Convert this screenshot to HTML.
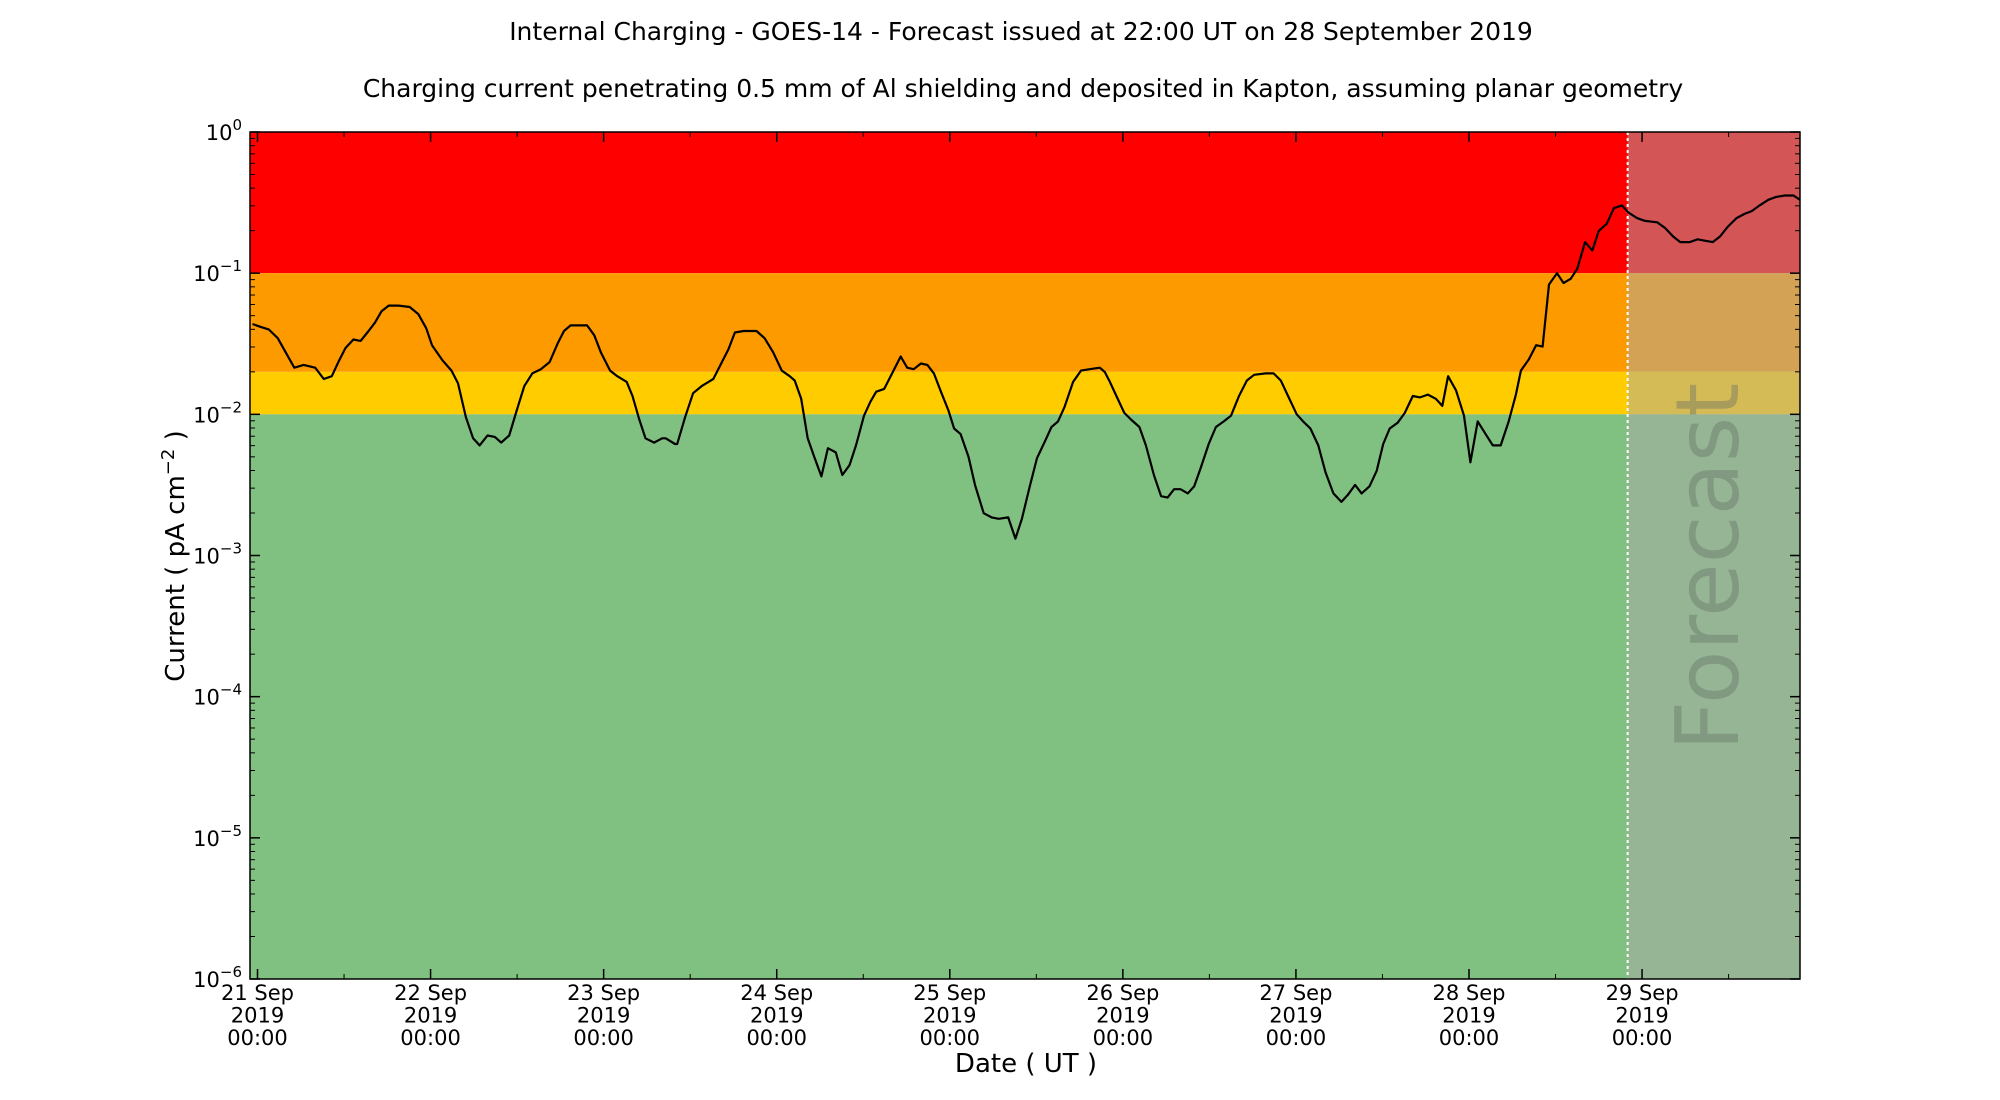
<!DOCTYPE html>
<html><head><meta charset="utf-8">
<style>
html,body{margin:0;padding:0;background:#fff;}
svg{display:block;font-family:"DejaVu Sans","Liberation Sans",sans-serif;}
</style></head>
<body>
<svg id="chart" width="2000" height="1100" viewBox="0 0 2000 1100">
<text x="1021" y="40" font-size="25" text-anchor="middle">Internal Charging - GOES-14 - Forecast issued at 22:00 UT on 28 September 2019</text>
<text x="1023" y="97" font-size="25" text-anchor="middle">Charging current penetrating 0.5 mm of Al shielding and deposited in Kapton, assuming planar geometry</text>
<text x="1026" y="1072" font-size="26" text-anchor="middle">Date ( UT )</text>
<text transform="translate(184,556) rotate(-90)" font-size="26" text-anchor="middle">Current ( pA cm<tspan dy="-10" font-size="18">−2</tspan><tspan dy="10"> )</tspan></text>
<g id="plot"></g>
</svg>
<script>
// hours since 21 Sep 2019 00:00 UT
const hours = [-0.7,0.4,1.6,2.8,3.9,5.1,6.4,8.0,9.2,10.3,11.3,12.2,13.3,14.3,15.4,16.3,17.2,18.2,19.6,21.1,22.3,23.4,24.2,25.7,26.9,27.8,28.9,29.9,30.8,31.9,32.9,33.8,34.9,35.9,37.0,38.1,39.3,40.5,41.6,42.5,43.4,44.4,45.7,46.7,47.6,48.9,49.9,51.2,52.0,52.9,53.8,55.0,56.1,56.6,57.9,58.2,59.3,60.4,61.6,63.2,64.3,65.3,66.2,67.4,69.2,70.3,71.5,72.7,73.8,74.5,75.4,76.3,77.2,78.2,79.1,80.2,81.1,82.1,83.0,84.1,85.0,85.8,86.9,88.0,89.2,90.1,91.0,92.0,92.9,93.8,94.7,95.8,96.6,97.5,98.6,99.5,100.7,101.8,102.8,104.1,105.1,106.0,107.1,108.1,109.2,110.1,111.0,111.9,113.1,114.2,115.4,116.8,117.5,118.2,119.1,120.2,121.2,122.3,123.2,124.3,125.3,126.2,127.1,128.0,129.0,129.9,130.8,131.9,132.9,134.0,135.0,136.1,137.2,138.2,139.8,140.9,141.9,143.0,144.1,145.0,146.0,147.1,148.1,149.2,150.3,151.2,152.2,153.1,154.2,155.2,156.1,157.0,158.1,159.1,160.2,161.2,162.3,163.4,164.3,165.1,166.2,167.3,168.2,169.2,170.3,171.3,172.4,173.5,174.5,175.2,176.3,177.3,178.2,179.1,180.2,181.1,182.1,183.0,184.1,185.1,186.0,187.1,188.1,189.2,190.1,191.3,192.4,194.1,195.2,196.3,197.3,198.6,199.7,200.7,201.8,202.8,203.9,205.1,206.2,207.2,208.3,209.5,210.6,211.8,213.0,214.1];
// log10 of current (pA cm^-2)
const log10Current = [-1.36,-1.38,-1.40,-1.46,-1.56,-1.67,-1.65,-1.67,-1.75,-1.73,-1.62,-1.53,-1.47,-1.48,-1.41,-1.35,-1.27,-1.23,-1.23,-1.24,-1.29,-1.39,-1.51,-1.62,-1.69,-1.78,-2.02,-2.17,-2.22,-2.15,-2.16,-2.20,-2.15,-1.98,-1.80,-1.71,-1.68,-1.63,-1.50,-1.41,-1.37,-1.37,-1.37,-1.44,-1.56,-1.69,-1.73,-1.77,-1.87,-2.03,-2.17,-2.20,-2.17,-2.17,-2.21,-2.21,-2.02,-1.85,-1.80,-1.75,-1.64,-1.54,-1.42,-1.41,-1.41,-1.46,-1.56,-1.69,-1.73,-1.76,-1.89,-2.17,-2.30,-2.44,-2.24,-2.27,-2.43,-2.36,-2.22,-2.01,-1.91,-1.84,-1.82,-1.71,-1.59,-1.67,-1.68,-1.64,-1.65,-1.71,-1.83,-1.97,-2.10,-2.14,-2.30,-2.50,-2.70,-2.73,-2.74,-2.73,-2.88,-2.74,-2.51,-2.31,-2.19,-2.09,-2.05,-1.95,-1.77,-1.69,-1.68,-1.67,-1.70,-1.77,-1.87,-1.99,-2.04,-2.09,-2.22,-2.43,-2.58,-2.59,-2.53,-2.53,-2.56,-2.51,-2.38,-2.21,-2.09,-2.05,-2.01,-1.87,-1.76,-1.72,-1.71,-1.71,-1.76,-1.88,-2.00,-2.05,-2.10,-2.22,-2.41,-2.56,-2.62,-2.57,-2.50,-2.56,-2.51,-2.40,-2.21,-2.10,-2.06,-1.99,-1.87,-1.88,-1.86,-1.89,-1.94,-1.73,-1.83,-2.01,-2.34,-2.05,-2.14,-2.22,-2.22,-2.05,-1.86,-1.69,-1.61,-1.51,-1.52,-1.08,-1.00,-1.07,-1.04,-0.97,-0.78,-0.84,-0.70,-0.65,-0.54,-0.52,-0.57,-0.61,-0.63,-0.64,-0.68,-0.74,-0.78,-0.78,-0.76,-0.77,-0.78,-0.74,-0.67,-0.61,-0.58,-0.56,-0.52,-0.48,-0.46,-0.45,-0.45,-0.48];
const dayLabels = ["21 Sep","22 Sep","23 Sep","24 Sep","25 Sep","26 Sep","27 Sep","28 Sep","29 Sep"];
const yDecades = [0,-1,-2,-3,-4,-5,-6];
const bandEdges = [0,-1,Math.log10(0.02),-2,-6]; // red, orange, yellow, green
const bandColors = ["#ff0000","#fd9a00","#ffcc00","#80c080"];
const forecastHour = 190;

const NS="http://www.w3.org/2000/svg";
const L=250,R=1800,T=132,B=979;
const xMin=-1.04,xMax=213.9,yMin=-6,yMax=0;
const X=h=>L+(h-xMin)/(xMax-xMin)*(R-L);
const Y=v=>T+(yMax-v)/(yMax-yMin)*(B-T);
const g=document.getElementById('plot');
function mk(tag,attrs,parent){const e=document.createElementNS(NS,tag);for(const k in attrs)e.setAttribute(k,attrs[k]);(parent||g).appendChild(e);return e;}

for(let i=0;i<bandColors.length;i++){
  const r=mk('rect',{x:L,y:Y(bandEdges[i]),width:R-L,height:Y(bandEdges[i+1])-Y(bandEdges[i]),fill:bandColors[i]});
  
  
}
const fo=mk('rect',{x:X(forecastHour),y:T,width:R-X(forecastHour),height:B-T,fill:'rgba(170,170,170,0.5)'});


const ft=mk('text',{transform:`translate(${(X(forecastHour)+R)/2+24},${Y(-3.08)}) rotate(-90)`,'font-size':87,'text-anchor':'middle',fill:'rgba(100,110,100,0.4)'});
ft.textContent='Forecast';


const fl=mk('line',{x1:X(forecastHour),x2:X(forecastHour),y1:T,y2:B,stroke:'#fff','stroke-width':2,'stroke-dasharray':'3,3'});



let d='';
for(let i=0;i<hours.length;i++){d+=(i?'L':'M')+X(Math.max(xMin,Math.min(xMax,hours[i]))).toFixed(1)+','+Y(log10Current[i]).toFixed(1);}
const cp=mk('clipPath',{id:'clip'});mk('rect',{x:L,y:T,width:R-L,height:B-T},cp);
const line=mk('path',{d:d,fill:'none',stroke:'#000','stroke-width':2.2,'clip-path':'url(#clip)','stroke-linejoin':'round'});



const fr=mk('rect',{x:L,y:T,width:R-L,height:B-T,fill:'none',stroke:'#000','stroke-width':1.5});



yDecades.forEach(p=>{
  const y=Y(p);
  mk('line',{x1:L,x2:L+10,y1:y,y2:y,stroke:'#000','stroke-width':1.5});
  mk('line',{x1:R,x2:R-10,y1:y,y2:y,stroke:'#000','stroke-width':1.5});
  const t=mk('text',{x:L-8,y:y+8,'font-size':21,'text-anchor':'end'});
  t.innerHTML=`10<tspan dy="-10" font-size="15">${p<0?'−'+(-p):p}</tspan>`;
  
  
  if(p>yMin){for(let m=2;m<10;m++){const ym=Y(p-1+Math.log10(m));
    mk('line',{x1:L,x2:L+5,y1:ym,y2:ym,stroke:'#000','stroke-width':1});
    mk('line',{x1:R,x2:R-5,y1:ym,y2:ym,stroke:'#000','stroke-width':1});}}
});
dayLabels.forEach((lab,i)=>{
  const x=X(i*24);
  mk('line',{x1:x,x2:x,y1:B,y2:B-10,stroke:'#000','stroke-width':1.5});
  mk('line',{x1:x,x2:x,y1:T,y2:T+10,stroke:'#000','stroke-width':1.5});
  const xm=X(i*24+12);
  if(xm<R){mk('line',{x1:xm,x2:xm,y1:B,y2:B-5,stroke:'#000'});mk('line',{x1:xm,x2:xm,y1:T,y2:T+5,stroke:'#000'});}
  const t=mk('text',{x:x,y:1000,'font-size':21,'text-anchor':'middle'});
  t.innerHTML=`<tspan x="${x}">${lab}</tspan><tspan x="${x}" dy="22.5">2019</tspan><tspan x="${x}" dy="22.5">00:00</tspan>`;
  
  
});
</script>
</body></html>
